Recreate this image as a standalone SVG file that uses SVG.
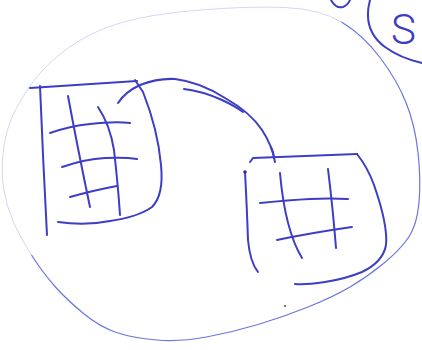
<svg xmlns="http://www.w3.org/2000/svg" width="422" height="350" viewBox="0 0 422 350">
<style>
.pen{fill:none;stroke:#3d3dc6;stroke-width:2;stroke-linecap:round;stroke-linejoin:round}
.outline{fill:none;stroke:#6a76e0;stroke-width:1.2;stroke-linecap:round}
.faint{fill:none;stroke:#d3d8f4;stroke-width:1;stroke-linecap:round}
</style>
<rect width="422" height="350" fill="#ffffff"/>
<g id="boundary">
<path class="outline" d="M341.5,22 Q363,35 380,57.5 Q397,80 406,102.5 Q415,125 418,152.5 Q421,180 419,202.5 Q417,225 408.5,237.5 Q400,250 383.5,263.5 Q367,277 350,287 Q333,297 308,307 Q283,317 258,324.5 Q233,332 206.5,337 Q180,342 156.5,340 Q133,338 116.5,332.5 Q100,327 83.5,313.5 Q67,300 55,286.5 Q43,273 31.5,255"/>
<path class="faint" d="M31.5,255 Q20,237 13,221 Q6,205 3.5,187.5 Q1,170 3.5,150 Q6,130 13,115 Q20,100 32.5,82.5 Q45,65 67.5,48.5 Q90,32 120,23 Q150,14 200,10 Q250,6 285,7.5 Q320,9 341.5,22"/>
</g>
<g id="corner-mark">
<path class="pen" d="M331,0 Q336,9 343,7 Q348,5 350,0"/>
<path class="pen" d="M370,0 Q362,30 385,47 Q400,58 422,63"/>
<text x="391" y="44" font-family="Roboto, 'DejaVu Sans', sans-serif" font-weight="300" font-size="42" fill="#3d3dc6">S</text>
</g>
<g id="node1">
<path class="pen" d="M30,88 L137,81"/>
<path class="pen" d="M40,86 Q43,160 47,235"/>
<path class="pen" d="M135,80 L143,92 Q158,130 161,165 Q164,195 152,207 Q138,217 110,221 Q85,226 58,222"/>
<path class="pen" d="M68,96 Q78,150 90,207"/>
<path class="pen" d="M98,107 Q110,125 114,150 Q118,185 120,215"/>
<path class="pen" d="M50,133 Q70,126 90,124 Q115,121 130,123"/>
<path class="pen" d="M62,167 Q85,159 105,158 Q125,157 137,159"/>
<path class="pen" d="M70,197 Q95,190 117,186"/>
</g>
<g id="node2">
<path class="pen" d="M250,162 L253,158 Q300,156 357,154"/>
<path class="pen" d="M357,154 Q368,168 374,185 Q388,225 386,245 Q383,262 362,272 Q345,279 325,282 Q305,285 295,284"/>
<path class="pen" d="M245,172 Q247,210 248,240 Q250,262 258,272"/>
<path class="pen" d="M280,173 Q285,230 302,258"/>
<path class="pen" d="M328,169 Q333,210 336,248"/>
<path class="pen" d="M260,203 Q290,200 310,199 Q330,198 348,199"/>
<path class="pen" d="M277,240 Q310,233 352,227"/>
<circle cx="245" cy="172" r="1.8" fill="#2e2e9a"/>
<circle cx="285" cy="306" r="0.9" fill="#333"/>
</g>
<g id="connectors">
<path class="pen" d="M118,103 Q125,92 140,85 Q158,78 175,79 Q200,82 225,98 Q250,112 262,130 Q272,145 275,162"/>
<path class="pen" stroke-width="1.5" d="M184,89 Q202,91 222,100 Q235,106 243,112"/>
<path class="pen" stroke-width="3.2" stroke="#2e2e9a" d="M271,147 Q274,153 274,158"/>
</g>
</svg>
